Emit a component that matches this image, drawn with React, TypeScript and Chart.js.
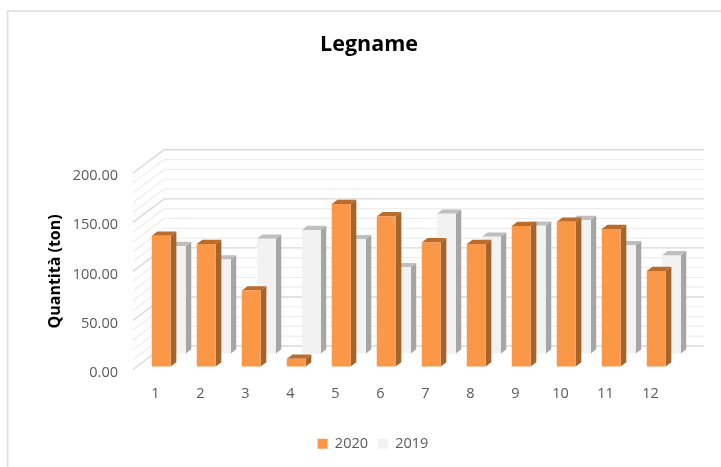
import React, { useEffect, useRef } from "react";
import { Chart, registerables } from "chart.js";

Chart.register(...registerables);

const categories = ["1", "2", "3", "4", "5", "6", "7", "8", "9", "10", "11", "12"];
const values2020 = [133.3, 124.9, 77.4, 7.8, 165.6, 153, 126.5, 124.9, 143.2, 147.6, 140.1, 97.4];
const values2019 = [109.6, 95.7, 117, 125.9, 116.4, 87.9, 142.5, 119, 130.3, 136, 110.3, 100];
const FONT = "'Open Sans', sans-serif";

// depth placement of each series inside the 3D box
const seriesDepth = [
  { dx: 5.7, dy: -3, ex: 5.7, ey: -4.3, top: "#B96C2B", side: "#A5642C" },
  { dx: 21, dy: -16, ex: 5.3, ey: -4.3, top: "#BFBFBF", side: "#A6A6A6" },
];
const wall = { dx: 31, dy: -23.5 };

const poly = (ctx: CanvasRenderingContext2D, pts: number[][], fill: string) => {
  ctx.beginPath();
  pts.forEach(([x, y], i) => (i ? ctx.lineTo(x, y) : ctx.moveTo(x, y)));
  ctx.closePath();
  ctx.fillStyle = fill;
  ctx.fill();
};

const depth3d = {
  id: "depth3d",
  afterLayout(chart: any) {
    if (chart.titleBlock) {
      chart.titleBlock.left += 32.5;
      chart.titleBlock.right += 32.5;
    }
    if (chart.legend) {
      chart.legend.left += 36.5;
      chart.legend.right += 36.5;
    }
  },
  beforeDraw(chart: any) {
    const ctx = chart.ctx;
    ctx.save();
    ctx.fillStyle = "#fff";
    ctx.fillRect(0, 0, chart.width, chart.height);
    ctx.strokeStyle = "#E3E3E3";
    ctx.lineWidth = 2;
    ctx.beginPath();
    ctx.moveTo(7.5, chart.height);
    ctx.lineTo(7.5, 11);
    ctx.lineTo(chart.width, 11);
    ctx.stroke();
    ctx.restore();
  },
  beforeDatasetsDraw(chart: any) {
    const { ctx, chartArea, scales } = chart;
    ctx.save();
    for (let v = 0; v <= 200; v += 10) {
      const y = scales.y.getPixelForValue(v);
      ctx.beginPath();
      ctx.moveTo(chartArea.left, y);
      ctx.lineTo(chartArea.left + wall.dx, y + wall.dy);
      ctx.lineTo(chartArea.right + wall.dx, y + wall.dy);
      ctx.strokeStyle = v % 50 === 0 ? "#D9D9D9" : "#EDEDED";
      ctx.lineWidth = v % 50 === 0 ? 1.4 : 1.2;
      ctx.stroke();
    }
    ctx.restore();
  },
  beforeDatasetDraw(chart: any, args: any) {
    const ctx = chart.ctx;
    const d = seriesDepth[args.index];
    ctx.save();
    ctx.translate(d.dx, d.dy);
    args.meta.data.forEach((el: any) => {
      const { x, y, base, width } = el.getProps(["x", "y", "base", "width"], true);
      const l = x - width / 2;
      const r = x + width / 2;
      poly(ctx, [[l, y], [r, y], [r + d.ex, y + d.ey], [l + d.ex, y + d.ey]], d.top);
      poly(ctx, [[r, y], [r + d.ex, y + d.ey], [r + d.ex, base + d.ey], [r, base]], d.side);
    });
  },
  afterDatasetDraw(chart: any) {
    chart.ctx.restore();
  },
};

export default function App() {
  const ref = useRef<HTMLCanvasElement>(null);
  useEffect(() => {
    const chart = new Chart(ref.current!, {
      type: "bar",
      data: {
        labels: categories,
        datasets: [
          { label: "2020", data: values2020, backgroundColor: "#FB9848", grouped: false, clip: false } as any,
          { label: "2019", data: values2019, backgroundColor: "#F2F2F2", grouped: false, clip: false } as any,
        ],
      },
      plugins: [depth3d as any],
      options: {
        responsive: false,
        animation: false,
        datasets: { bar: { barPercentage: 0.42, categoryPercentage: 1 } },
        layout: { padding: { left: 0, right: 48, top: 0, bottom: 6 } },
        plugins: {
          tooltip: { enabled: false },
          title: {
            display: true,
            text: "Legname",
            color: "#000",
            font: { family: FONT, size: 21.5, weight: "bold" },
            padding: { top: 32, bottom: 115.5 },
          },
          legend: {
            position: "bottom",
            labels: {
              boxWidth: 10,
              boxHeight: 10,
              padding: 10,
              color: "#595959",
              font: { family: FONT, size: 14.5 },
            },
          },
        },
        scales: {
          x: {
            afterFit: (s: any) => { s.height = 57; },
            grid: { display: false },
            border: { display: false },
            ticks: { color: "#595959", padding: 8, font: { family: FONT, size: 14.5 }, maxRotation: 0 },
          },
          y: {
            min: 0,
            max: 200,
            afterFit: (s: any) => { s.width = 133; },
            grid: { display: false },
            border: { display: false },
            ticks: {
              stepSize: 50,
              padding: 7,
              labelOffset: 3,
              color: "#595959",
              font: { family: FONT, size: 14.5 },
              callback: (v: any) => Number(v).toFixed(2),
            },
            title: {
              display: true,
              text: "Quantità (ton)",
              color: "#000",
              font: { family: FONT, size: 16, weight: "bold" },
              padding: { top: 46, bottom: 0 },
            },
          },
        },
      } as any,
    });
    return () => chart.destroy();
  }, []);
  return (
    <div style={{ position: "fixed", left: 0, top: 0, width: 721, height: 467, background: "#fff" }}>
      <canvas ref={ref} width={721} height={467} style={{ display: "block" }} />
    </div>
  );
}
